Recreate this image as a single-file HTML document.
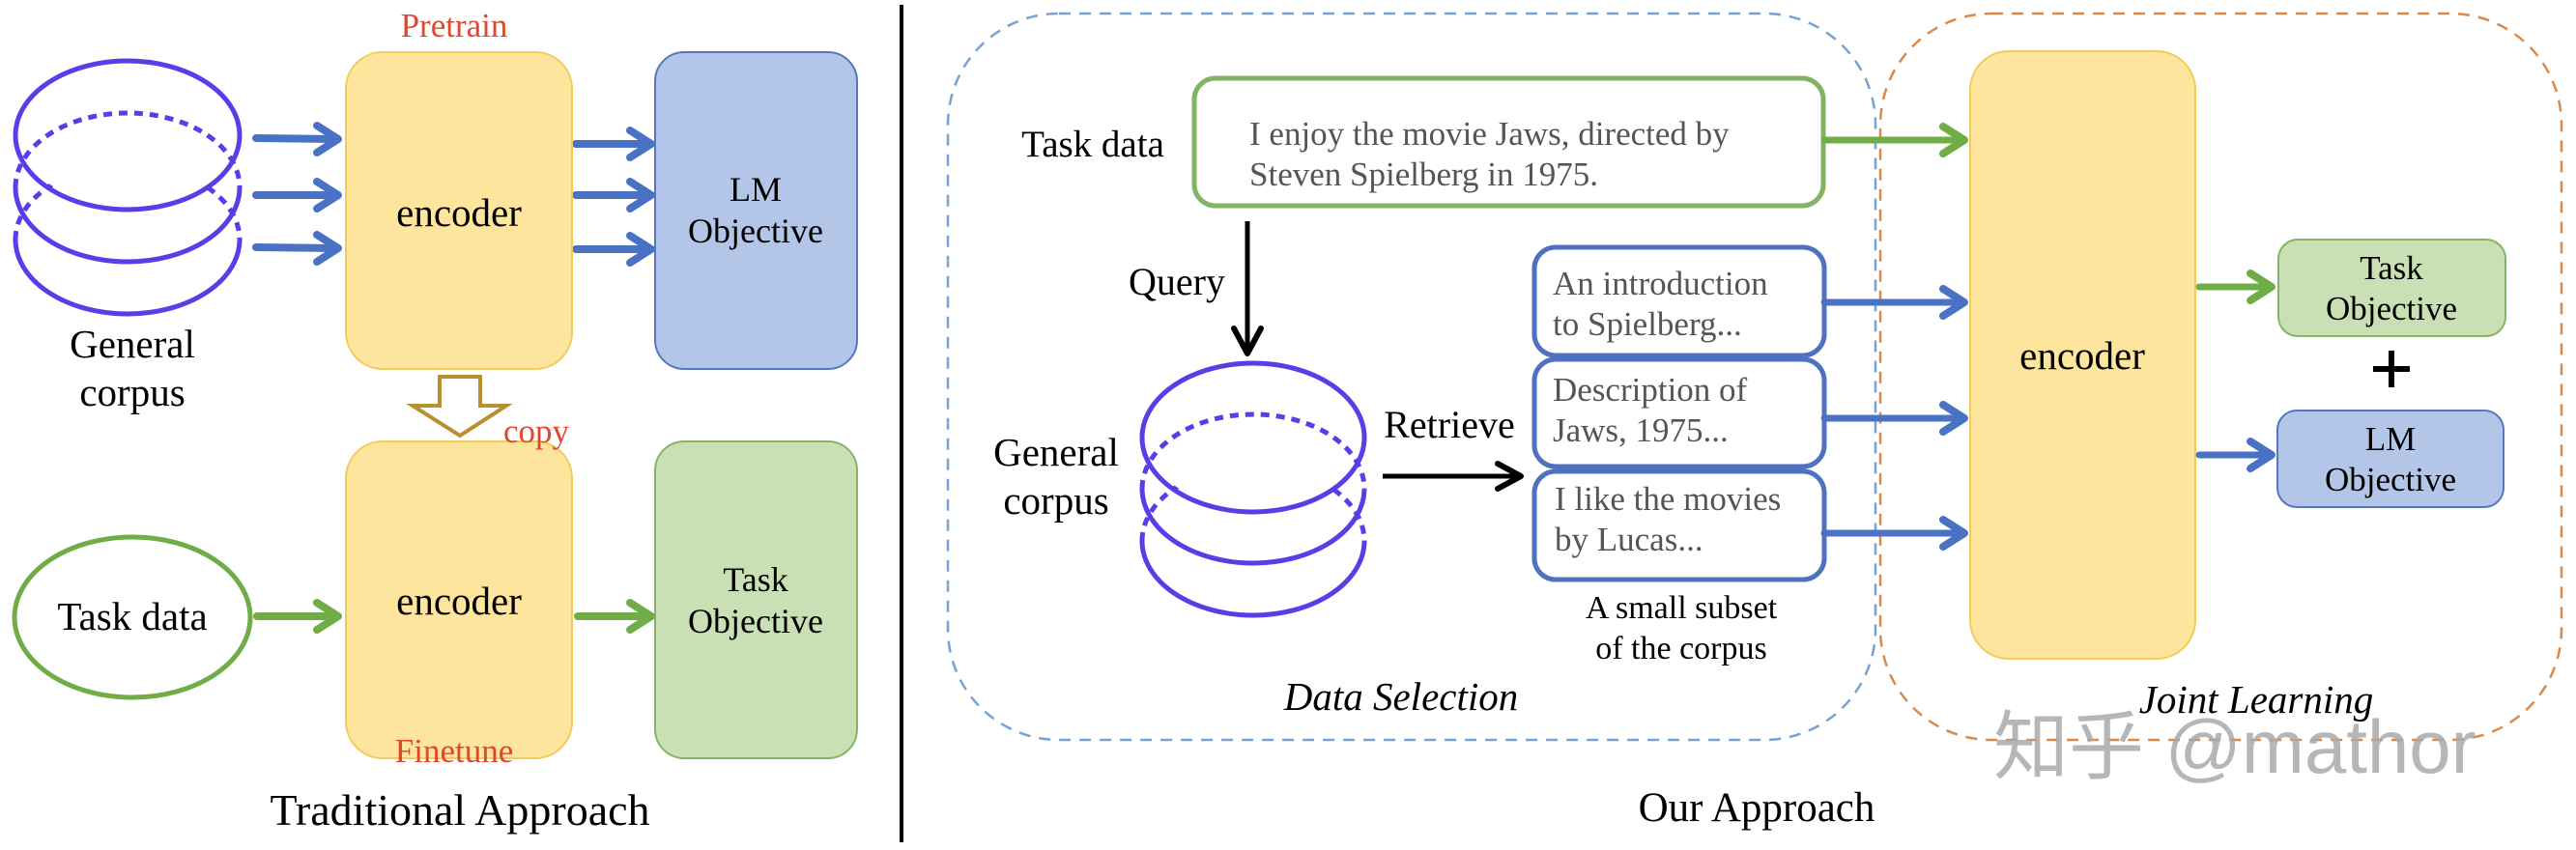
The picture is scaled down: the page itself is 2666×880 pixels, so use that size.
<!DOCTYPE html>
<html><head><meta charset="utf-8"><style>
html,body{margin:0;padding:0;background:#fff;}
svg{display:block;}
text{font-family:"Liberation Serif",serif;}
</style></head><body>
<svg width="2666" height="880" viewBox="0 0 2666 880" xmlns="http://www.w3.org/2000/svg" font-family="Liberation Serif, serif">
<defs>
<g id="hb"><polyline points="-22,-14 0,0 -22,14" fill="none" stroke-width="8" stroke-linecap="round" stroke-linejoin="round"/></g>
<mask id="m1"><rect x="0" y="0" width="400" height="400" fill="#fff"/><ellipse cx="132" cy="140" rx="112" ry="73" fill="#000"/></mask>
<mask id="m2"><rect x="1100" y="300" width="400" height="400" fill="#fff"/><ellipse cx="1297" cy="453" rx="111" ry="73" fill="#000"/></mask>
</defs>

<!-- LEFT: Traditional -->
<g fill="none" stroke="#5a3de6" stroke-width="5">
  <path d="M16,248 A116,77 0 0 0 248,248" />
  <path d="M16,248 A116,77 0 0 1 248,248" stroke-dasharray="9,7" mask="url(#m1)"/>
  <path d="M16,194 A116,77 0 0 0 248,194" />
  <path d="M16,194 A116,77 0 0 1 248,194" stroke-dasharray="9,7"/>
  <ellipse cx="132" cy="140" rx="116" ry="77"/>
</g>
<text x="137" y="370" font-size="41" text-anchor="middle">General</text>
<text x="137" y="420" font-size="41" text-anchor="middle">corpus</text>

<g stroke="#4a72c4" fill="none" stroke-width="8" stroke-linecap="round">
  <line x1="265" y1="143" x2="348" y2="144"/><use href="#hb" x="350" y="144" stroke="#4a72c4"/>
  <line x1="265" y1="202" x2="348" y2="202"/><use href="#hb" x="350" y="202" stroke="#4a72c4"/>
  <line x1="265" y1="256" x2="348" y2="257"/><use href="#hb" x="350" y="257" stroke="#4a72c4"/>
  <line x1="596" y1="149" x2="672" y2="149"/><use href="#hb" x="674" y="149" stroke="#4a72c4"/>
  <line x1="596" y1="202" x2="672" y2="202"/><use href="#hb" x="674" y="202" stroke="#4a72c4"/>
  <line x1="596" y1="258" x2="672" y2="258"/><use href="#hb" x="674" y="258" stroke="#4a72c4"/>
</g>

<rect x="358" y="54" width="234" height="328" rx="38" fill="#fde59d" stroke="#f1cc5c" stroke-width="2"/>
<text x="470" y="38" font-size="35" fill="#e0472e" text-anchor="middle">Pretrain</text>
<text x="475" y="234" font-size="41" text-anchor="middle">encoder</text>
<rect x="678" y="54" width="209" height="328" rx="30" fill="#b4c6e7" stroke="#5577c2" stroke-width="2"/>
<text x="782" y="208" font-size="36" text-anchor="middle">LM</text>
<text x="782" y="251" font-size="36" text-anchor="middle">Objective</text>

<polygon points="455,390 497,390 497,420 524,420 476,451 427,420 455,420" fill="#fff" stroke="#b8902e" stroke-width="4" stroke-linejoin="miter"/>

<rect x="358" y="457" width="234" height="328" rx="38" fill="#fde59d" stroke="#f1cc5c" stroke-width="2"/>
<text x="555" y="458" font-size="35" fill="#e0472e" text-anchor="middle">copy</text>
<text x="475" y="636" font-size="41" text-anchor="middle">encoder</text>
<text x="470" y="789" font-size="35" fill="#e0472e" text-anchor="middle">Finetune</text>
<rect x="678" y="457" width="209" height="328" rx="30" fill="#c9e0b4" stroke="#86b466" stroke-width="2"/>
<text x="782" y="612" font-size="36" text-anchor="middle">Task</text>
<text x="782" y="655" font-size="36" text-anchor="middle">Objective</text>

<ellipse cx="137" cy="639" rx="122" ry="83" fill="none" stroke="#70ad47" stroke-width="5"/>
<text x="137" y="652" font-size="41" text-anchor="middle">Task data</text>
<g stroke="#70ad47" fill="none" stroke-width="8" stroke-linecap="round">
  <line x1="266" y1="638" x2="348" y2="638"/><use href="#hb" x="350" y="638" stroke="#70ad47"/>
  <line x1="598" y1="638" x2="672" y2="638"/><use href="#hb" x="674" y="638" stroke="#70ad47"/>
</g>
<text x="476" y="854" font-size="46" text-anchor="middle">Traditional Approach</text>

<line x1="933" y1="5" x2="933" y2="872" stroke="#000" stroke-width="4"/>

<!-- RIGHT: Our approach -->
<rect x="981" y="14" width="960" height="752" rx="115" fill="none" stroke="#78a2cf" stroke-width="2.5" stroke-dasharray="12,9"/>
<rect x="1946" y="14" width="705" height="752" rx="115" fill="none" stroke="#d98a4b" stroke-width="2.5" stroke-dasharray="12,9"/>

<text x="1131" y="162" font-size="39" text-anchor="middle">Task data</text>
<rect x="1236" y="81" width="651" height="132" rx="22" fill="#fff" stroke="#82b366" stroke-width="5"/>
<text x="1293" y="150" font-size="35" fill="#555">I enjoy the movie Jaws, directed by</text>
<text x="1293" y="192" font-size="35" fill="#555">Steven Spielberg in 1975.</text>

<line x1="1291" y1="229" x2="1291" y2="364" stroke="#000" stroke-width="5"/>
<polyline points="1277,340 1291,366 1305,340" fill="none" stroke="#000" stroke-width="6" stroke-linecap="round" stroke-linejoin="round"/>
<text x="1268" y="305" font-size="40" text-anchor="end">Query</text>

<g fill="none" stroke="#5a3de6" stroke-width="5">
  <path d="M1182,560 A115,77 0 0 0 1412,560" />
  <path d="M1182,560 A115,77 0 0 1 1412,560" stroke-dasharray="9,7" mask="url(#m2)"/>
  <path d="M1182,506 A115,77 0 0 0 1412,506" />
  <path d="M1182,506 A115,77 0 0 1 1412,506" stroke-dasharray="9,7"/>
  <ellipse cx="1297" cy="453" rx="115" ry="77"/>
</g>
<text x="1093" y="482" font-size="41" text-anchor="middle">General</text>
<text x="1093" y="532" font-size="41" text-anchor="middle">corpus</text>

<text x="1500" y="453" font-size="40" text-anchor="middle">Retrieve</text>
<line x1="1431" y1="493" x2="1570" y2="493" stroke="#000" stroke-width="5"/>
<polyline points="1550,480 1574,493 1550,506" fill="none" stroke="#000" stroke-width="6" stroke-linecap="round" stroke-linejoin="round"/>

<g fill="#fff" stroke="#4f72c0" stroke-width="5">
  <rect x="1588" y="256" width="300" height="112" rx="22"/>
  <rect x="1588" y="372" width="300" height="111" rx="22"/>
  <rect x="1588" y="488" width="300" height="112" rx="22"/>
</g>
<g font-size="35" fill="#555">
  <text x="1607" y="305">An introduction</text>
  <text x="1607" y="347">to Spielberg...</text>
  <text x="1607" y="415">Description of</text>
  <text x="1607" y="457">Jaws, 1975...</text>
  <text x="1609" y="528">I like the movies</text>
  <text x="1609" y="570">by Lucas...</text>
</g>
<text x="1740" y="640" font-size="34" text-anchor="middle">A small subset</text>
<text x="1740" y="682" font-size="34" text-anchor="middle">of the corpus</text>
<text x="1450" y="735" font-size="41" font-style="italic" text-anchor="middle">Data Selection</text>

<g stroke-width="7" fill="none" stroke-linecap="round">
  <line x1="1888" y1="145" x2="2030" y2="145" stroke="#70ad47"/><use href="#hb" x="2033" y="145" stroke="#70ad47"/>
  <line x1="1888" y1="313" x2="2030" y2="313" stroke="#4a72c4"/><use href="#hb" x="2033" y="313" stroke="#4a72c4"/>
  <line x1="1888" y1="433" x2="2030" y2="433" stroke="#4a72c4"/><use href="#hb" x="2033" y="433" stroke="#4a72c4"/>
  <line x1="1888" y1="552" x2="2030" y2="552" stroke="#4a72c4"/><use href="#hb" x="2033" y="552" stroke="#4a72c4"/>
</g>

<rect x="2039" y="53" width="233" height="629" rx="40" fill="#fde59d" stroke="#f1cc5c" stroke-width="2"/>
<text x="2155" y="382" font-size="41" text-anchor="middle">encoder</text>

<g stroke-width="7" fill="none" stroke-linecap="round">
  <line x1="2276" y1="297" x2="2348" y2="297" stroke="#70ad47"/><use href="#hb" x="2351" y="297" stroke="#70ad47"/>
  <line x1="2276" y1="471" x2="2348" y2="471" stroke="#4a72c4"/><use href="#hb" x="2351" y="471" stroke="#4a72c4"/>
</g>
<rect x="2358" y="248" width="235" height="100" rx="20" fill="#c9e0b4" stroke="#86b466" stroke-width="2"/>
<text x="2475" y="289" font-size="35" text-anchor="middle">Task</text>
<text x="2475" y="331" font-size="35" text-anchor="middle">Objective</text>
<rect x="2456" y="379" width="38" height="6" fill="#000"/>
<rect x="2472" y="363" width="6" height="38" fill="#000"/>
<rect x="2357" y="425" width="234" height="100" rx="20" fill="#b4c6e7" stroke="#5577c2" stroke-width="2"/>
<text x="2474" y="466" font-size="35" text-anchor="middle">LM</text>
<text x="2474" y="508" font-size="35" text-anchor="middle">Objective</text>
<text x="2335" y="738" font-size="41" font-style="italic" text-anchor="middle">Joint Learning</text>

<text x="1818" y="850" font-size="43" text-anchor="middle">Our Approach</text>

<text x="2063" y="800" font-size="78" fill="#a9a9a9" fill-opacity="0.85" font-family="Liberation Sans, Noto Sans CJK SC, sans-serif" style="font-family:'Liberation Sans','Noto Sans CJK SC',sans-serif">知乎 @mathor</text>
</svg>
</body></html>
